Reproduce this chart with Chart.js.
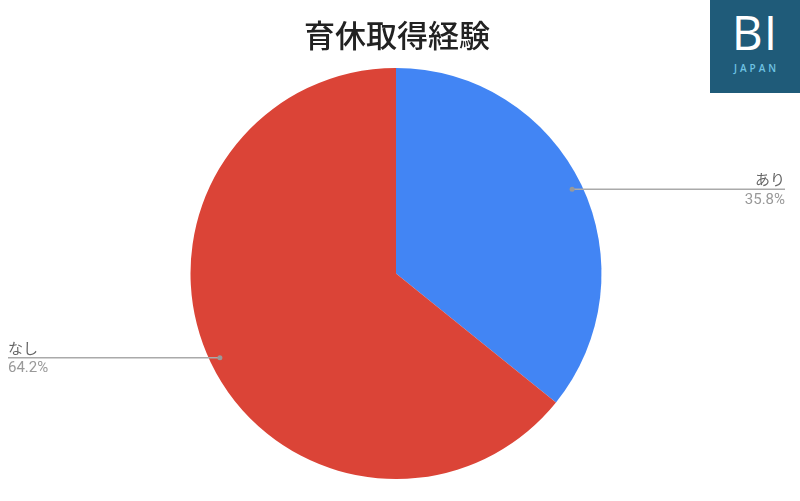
<!DOCTYPE html>
<html>
<head>
<meta charset="utf-8">
<script src="https://cdn.jsdelivr.net/npm/chart.js@4"></script>
<style>
    body { margin: 0; background: #fff; }
    #wrap { position: relative; width: 800px; height: 501px; }
    #logo { position: absolute; left: 710px; top: 0; width: 90px; height: 93px; background: #1f5b79; color: #fff; text-align: center; font-family: "Open Sans", sans-serif; }
    #logo .bi { font-size: 48px; line-height: 48px; margin-top: 8px; letter-spacing: 1px; font-weight: 500; }
    #logo .jp { font-size: 10px; letter-spacing: 3px; color: #6fc3e3; margin-top: 5px; padding-left: 3px; font-weight: 600; }
</style>
</head>
<body>
<div id="wrap">
    <canvas id="c" width="800" height="501"></canvas>
    <div id="logo"><div class="bi">BI</div><div class="jp">JAPAN</div></div>
</div>
<script>
const title = '育休取得経験';
const labels = ['あり', 'なし'];
const values = [35.8, 64.2];
const colors = ['#4285f4', '#db4437'];

// title + leader lines with labels, placed from the arc elements
const calloutPlugin = {
    id: 'callouts',
    afterDraw(chart) {
        const ctx = chart.ctx;
        ctx.save();
        ctx.fillStyle = '#222';
        ctx.font = '500 31px "Noto Sans CJK JP", sans-serif';
        ctx.textAlign = 'center';
        ctx.textBaseline = 'middle';
        ctx.fillText(title, 397, 35);

        const meta = chart.getDatasetMeta(0);
        meta.data.forEach((arc, i) => {
            const p = arc.getProps(['x', 'y', 'startAngle', 'endAngle', 'outerRadius'], true);
            const mid = (p.startAngle + p.endAngle) / 2;
            const r = p.outerRadius * 0.95;
            const dx = p.x + Math.cos(mid) * r;
            const dy = p.y + Math.sin(mid) * r;
            const right = Math.cos(mid) > 0;
            const endX = right ? 785 : 8;

            ctx.strokeStyle = '#aaa';
            ctx.lineWidth = 1.5;
            ctx.beginPath();
            ctx.moveTo(dx, dy);
            ctx.lineTo(endX, dy);
            ctx.stroke();
            ctx.fillStyle = '#999';
            ctx.beginPath();
            ctx.arc(dx, dy, 2.5, 0, Math.PI * 2);
            ctx.fill();

            ctx.textAlign = right ? 'right' : 'left';
            ctx.font = '15px "Noto Sans CJK JP", sans-serif';
            ctx.fillStyle = '#666';
            ctx.textBaseline = 'alphabetic';
            ctx.fillText(labels[i], endX, dy - 4);
            ctx.fillStyle = '#999';
            ctx.font = '15px Roboto, sans-serif';
            ctx.textBaseline = 'top';
            ctx.fillText(values[i].toFixed(1) + '%', endX, dy + 3);
        });
        ctx.restore();
    }
};

new Chart(document.getElementById('c'), {
    type: 'pie',
    data: {
        labels,
        datasets: [{
            data: values,
            backgroundColor: colors,
            borderWidth: 0
        }]
    },
    options: {
        responsive: false,
        animation: false,
        layout: { padding: { top: 68, bottom: 22, left: 190, right: 198 } },
        plugins: {
            legend: { display: false },
            tooltip: { enabled: false }
        }
    },
    plugins: [calloutPlugin]
});
</script>
</body>
</html>
